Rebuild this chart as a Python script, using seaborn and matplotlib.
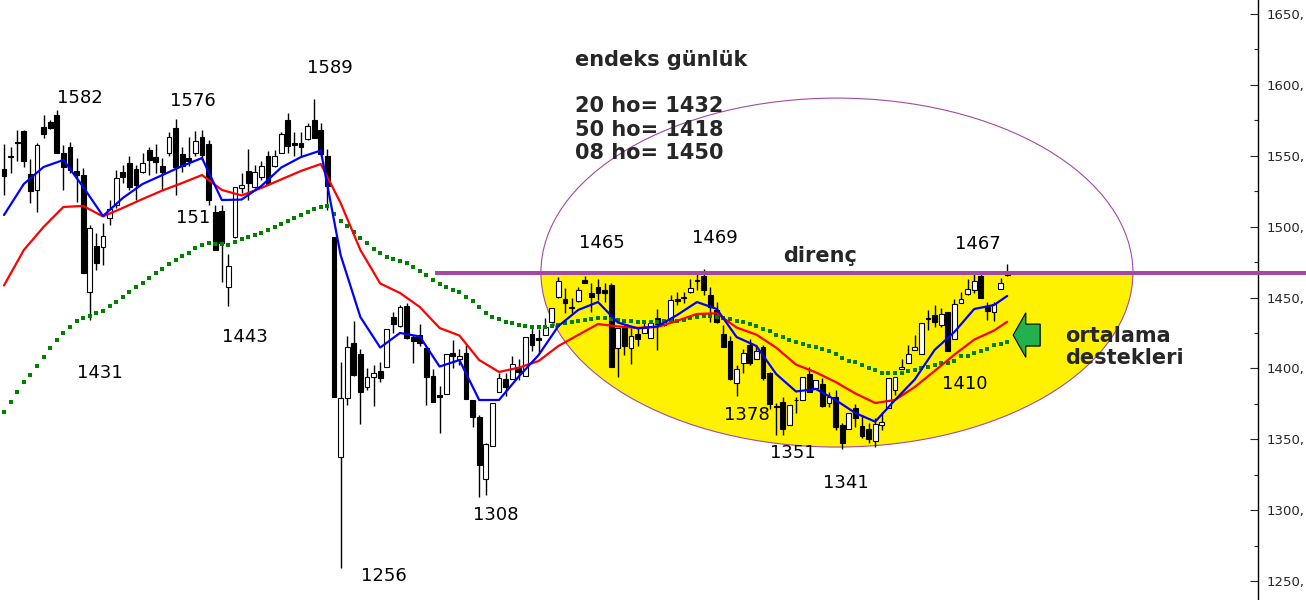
import numpy as np
import matplotlib
matplotlib.use("Agg")
import matplotlib.pyplot as plt
import seaborn as sns
from matplotlib.patches import Ellipse, Rectangle, FancyArrow

# daily candles (oldest first)
opens = [1541, 1549.5, 1560, 1567.5, 1537, 1526, 1570, 1574, 1579, 1552,
         1556.5, 1539, 1536.5, 1454, 1486, 1485.5, 1506, 1515.5, 1538.5, 1545,
         1540.5, 1538.5, 1554, 1549, 1543, 1552, 1569.5, 1551.5, 1548.5, 1552,
         1563, 1558.5, 1510.5, 1511, 1457.5, 1492.5, 1527.5, 1539.5, 1528, 1535,
         1550, 1542.5, 1552, 1575, 1559, 1559, 1562, 1575, 1568, 1549.5,
         1493, 1337.5, 1379, 1418, 1410, 1387, 1394, 1398.5, 1401, 1436,
         1430, 1444, 1422, 1423.5, 1414.5, 1394.5, 1381, 1382, 1411, 1406.5,
         1411, 1377.5, 1365.5, 1322, 1345, 1383.5, 1392.5, 1392.5, 1400.5, 1394.5,
         1424.5, 1421.5, 1423.5, 1433, 1450.5, 1449, 1443, 1447.5, 1462.5, 1453.5,
         1457.5, 1455, 1459, 1414.5, 1428.5, 1414.5, 1424.5, 1425, 1421.5, 1435.5,
         1430.5, 1434, 1449, 1450.5, 1454, 1462.5, 1465, 1452, 1441, 1424.5,
         1419.5, 1389.5, 1404, 1416.5, 1406.5, 1415, 1397, 1373.5, 1376, 1360,
         1378, 1377.5, 1396, 1386, 1389, 1375.5, 1380, 1360, 1357, 1372,
         1359.5, 1357, 1349, 1360, 1372, 1385, 1399.5, 1404, 1413, 1410,
         1435.5, 1437.5, 1430.5, 1440, 1420.5, 1446, 1452.5, 1455, 1465, 1443.5,
         1440, 1456, 1466]
highs = [1558, 1556, 1568, 1568, 1548, 1559, 1579, 1575, 1582, 1557.5,
         1560, 1548.5, 1541.5, 1501, 1495.5, 1502.5, 1519, 1540, 1543.5, 1549.5,
         1543.5, 1552, 1556.5, 1558.5, 1548.5, 1566.5, 1576, 1556, 1563, 1567.5,
         1568, 1561, 1515.5, 1515.5, 1480.5, 1528, 1538, 1555, 1543.5, 1546.5,
         1553.5, 1554, 1566.5, 1580, 1566.5, 1567, 1573, 1590, 1573, 1555,
         1493, 1404.5, 1423, 1433.5, 1413.5, 1400.5, 1402.5, 1404.5, 1428, 1440,
         1444.5, 1446, 1423.5, 1431.5, 1415.5, 1399.5, 1387.5, 1410, 1420, 1413.5,
         1416.5, 1377.5, 1367, 1347.5, 1375.5, 1397, 1397, 1408.5, 1406.5, 1422,
         1429, 1428, 1435.5, 1442.5, 1464.5, 1456.5, 1449.5, 1457.5, 1465, 1460,
         1463, 1460, 1460.5, 1428.5, 1430.5, 1428.5, 1428.5, 1432, 1432, 1442,
         1434, 1452, 1454, 1454, 1463, 1467, 1470, 1457.5, 1447, 1430.5,
         1423, 1402.5, 1413.5, 1420.5, 1416.5, 1416.5, 1397.5, 1375.5, 1380, 1374,
         1380, 1394, 1401, 1392, 1393, 1383.5, 1385, 1361.5, 1368.5, 1375,
         1367, 1361.5, 1365, 1369, 1393, 1394, 1406.5, 1416.5, 1423.5, 1432,
         1441, 1444.5, 1442.5, 1440, 1449, 1454, 1463, 1467.5, 1468, 1447,
         1446.5, 1464, 1473.5]
lows = [1522, 1538, 1546, 1542, 1517, 1510, 1562.5, 1569, 1552, 1526,
        1538, 1517.5, 1467, 1434, 1469.5, 1473, 1501, 1513, 1531, 1526,
        1519, 1538, 1536.5, 1538, 1526, 1549.5, 1522.5, 1538.5, 1542.5, 1549.5,
        1547, 1515.5, 1483.5, 1461, 1444, 1492, 1524, 1519, 1527.5, 1533,
        1529.5, 1542, 1552, 1552, 1549.5, 1549.5, 1561, 1562.5, 1549.5, 1511.5,
        1380, 1259, 1374, 1394.5, 1361, 1385, 1373.5, 1390.5, 1401, 1425,
        1429.5, 1420.5, 1404, 1415.5, 1374, 1376, 1354.5, 1382, 1400.5, 1402.5,
        1378.5, 1359, 1309.5, 1310.5, 1345, 1383, 1380.5, 1392.5, 1392, 1394.5,
        1412, 1411, 1423.5, 1432, 1449.5, 1439, 1439, 1447, 1460, 1439.5,
        1448, 1447, 1401, 1394, 1409.5, 1403, 1415.5, 1425, 1421.5, 1413,
        1430, 1434, 1444.5, 1446, 1453, 1455.5, 1452, 1433, 1432, 1415,
        1392, 1380.5, 1397, 1402.5, 1406.5, 1392, 1371.5, 1353, 1353, 1360,
        1368.5, 1377.5, 1383, 1386, 1373, 1373, 1356.5, 1343, 1357, 1359,
        1351, 1347.5, 1344.5, 1356.5, 1372, 1381, 1399.5, 1404, 1413, 1410,
        1427, 1429.5, 1429.5, 1412, 1420.5, 1446, 1452, 1453.5, 1449.5, 1434,
        1433.5, 1456, 1465]
closes = [1536, 1549, 1559, 1546.5, 1525.5, 1557.5, 1565.5, 1569.5, 1552, 1542,
          1540, 1536.5, 1467.5, 1499, 1474.5, 1493.5, 1512.5, 1534.5, 1535, 1528,
          1529.5, 1545, 1547, 1545.5, 1538.5, 1563, 1542, 1543, 1546.5, 1560.5,
          1550.5, 1518.5, 1483.5, 1488.5, 1472, 1528, 1529.5, 1531, 1538.5, 1542.5,
          1530, 1550, 1565.5, 1557, 1557.5, 1556, 1571, 1562.5, 1551.5, 1529,
          1380, 1379, 1415, 1395.5, 1383, 1394, 1397, 1393, 1428, 1431.5,
          1443.5, 1421.5, 1419, 1418, 1394, 1376.5, 1379.5, 1410, 1408.5, 1409,
          1378.5, 1366, 1331.5, 1346.5, 1375.5, 1393, 1387, 1403, 1397.5, 1422,
          1416.5, 1420, 1429, 1442.5, 1462, 1446, 1442.5, 1455.5, 1460, 1450.5,
          1453, 1453, 1401, 1428.5, 1416, 1423, 1420.5, 1428.5, 1432, 1431.5,
          1434, 1448, 1447.5, 1450, 1457, 1461.5, 1455, 1443.5, 1433, 1415,
          1392.5, 1399.5, 1411, 1404, 1412, 1393, 1375, 1373, 1357, 1374,
          1377.5, 1394, 1383.5, 1392, 1373.5, 1380, 1358.5, 1347.5, 1368.5, 1365,
          1352.5, 1350.5, 1361, 1362.5, 1393, 1394, 1401, 1410, 1415, 1432,
          1435, 1433, 1438.5, 1412, 1445.5, 1449, 1456, 1462, 1450, 1440.5,
          1445.5, 1460, 1467.5]

# 50-day average, one dot per day
ma50 = [1369.5, 1376.5, 1383.5, 1390.6, 1395.3, 1401.9, 1408.3, 1414.6, 1420.0, 1424.8,
        1429.4, 1433.6, 1435.8, 1437.2, 1438.9, 1440.7, 1443.8, 1447.1, 1450.6, 1454.1,
        1457.2, 1460.5, 1464.0, 1467.1, 1469.9, 1473.4, 1476.5, 1479.3, 1481.6, 1484.7,
        1487.0, 1488.2, 1487.8, 1487.8, 1487.0, 1489.4, 1491.1, 1492.9, 1494.1, 1495.7,
        1497.6, 1499.5, 1501.9, 1504.2, 1506.3, 1508.2, 1510.6, 1512.4, 1513.7, 1514.6,
        1508.9, 1504.2, 1500.5, 1496.4, 1492.2, 1488.2, 1484.2, 1481.2, 1478.8, 1477.0,
        1476.0, 1474.1, 1471.3, 1468.9, 1465.9, 1462.4, 1459.5, 1457.6, 1455.3, 1454.1,
        1450.6, 1447.8, 1443.1, 1439.3, 1436.5, 1434.8, 1432.9, 1431.8, 1430.6, 1429.9,
        1429.4, 1429.0, 1429.0, 1430.1, 1430.6, 1431.8, 1432.5, 1433.4, 1434.1, 1434.8,
        1435.3, 1435.8, 1434.6, 1434.1, 1433.6, 1433.4, 1432.9, 1432.9, 1432.9, 1432.9,
        1433.4, 1433.4, 1433.4, 1434.1, 1435.3, 1436.5, 1437.0, 1437.2, 1436.5, 1435.8,
        1434.8, 1433.4, 1432.5, 1431.3, 1429.9, 1427.8, 1426.4, 1423.6, 1421.9, 1420.0,
        1418.8, 1417.2, 1415.8, 1414.9, 1413.7, 1412.5, 1410.2, 1407.5, 1405.4, 1404.7,
        1402.4, 1400.1, 1398.9, 1397.0, 1396.5, 1397.0, 1397.0, 1398.4, 1398.9, 1400.1,
        1401.2, 1402.4, 1404.0, 1404.0, 1405.4, 1408.8, 1408.8, 1411.1, 1412.5, 1413.7,
        1416.5, 1417.0, 1418.8]

# 8- and 20-day averages, read every 3rd day plus the last one
ma_days = list(range(0, 151, 3)) + [152]
ma08 = [1508.2, 1530.1, 1542.1, 1547.0, 1528.0, 1507.5, 1520.2, 1530.1, 1536.4, 1542.8,
        1548.4, 1518.8, 1519.1, 1528.7, 1541.7, 1549.1, 1553.7, 1480.0, 1436.2, 1414.7,
        1425.0, 1422.5, 1401.3, 1405.9, 1377.7, 1377.7, 1394.3, 1409.4, 1429.9, 1441.2,
        1446.8, 1432.4, 1428.2, 1429.6, 1437.7, 1446.8, 1441.9, 1422.1, 1415.8, 1396.0,
        1383.7, 1385.5, 1377.7, 1368.5, 1362.4, 1377.7, 1392.2, 1413.0, 1425.7, 1441.9,
        1444.7, 1451.1]
ma20 = [1458.5, 1483.5, 1499.8, 1513.9, 1514.6, 1507.2, 1513.2, 1519.5, 1525.5, 1530.8,
        1536.4, 1525.9, 1522.0, 1527.3, 1533.3, 1539.3, 1544.2, 1516.7, 1483.5, 1459.9,
        1453.2, 1443.3, 1428.5, 1423.2, 1405.9, 1397.5, 1400.5, 1405.2, 1415.8, 1423.6,
        1431.3, 1429.6, 1428.6, 1429.2, 1433.6, 1438.4, 1438.9, 1428.8, 1423.8, 1414.6,
        1402.7, 1397.2, 1390.4, 1382.3, 1375.6, 1377.7, 1386.9, 1398.2, 1409.7, 1420.3,
        1426.7, 1432.9]

resist_level = 1467
ytick_vals = list(range(1250, 1651, 50))

# swing labels: text, day, price position
swing_text = ["1582", "1576", "1589", "151", "1443", "1431", "1256", "1308",
              "1465", "1469", "1467", "1378", "1351", "1341", "1410"]
swing_x = [11.5, 28.6, 49.4, 28.6, 36.5, 14.5, 57.6, 74.5,
           90.6, 107.7, 147.6, 112.6, 119.5, 127.6, 145.6]
swing_y = [1590.8, 1588.6, 1611.9, 1506.1, 1422.1, 1396.7, 1253.5, 1296.6,
           1488.5, 1492.0, 1487.8, 1367.1, 1340.3, 1319.1, 1389.0]

info_lines = ["endeks günlük", "", "20 ho= 1432", "50 ho= 1418", "08 ho= 1450"]

YELLOW = "#FFF200"
PURPLE = "#A349A4"
GREEN = "#22B14C"

sns.set_style("white")
plt.rcParams["font.family"] = ["DejaVu Sans"]

fig = plt.figure(figsize=(13.06, 6), dpi=100)
ax = fig.add_axes([0, 0, 1258 / 1306, 1])
ax.set_xlim(-0.606, 190.0)
ax.set_ylim(1236.6, 1659.9)

# yellow bowl under the resistance + the ellipse outline
bowl = Ellipse((126.2, 1467.6), 89.7, 246.2, facecolor=YELLOW, edgecolor="none", zorder=1)
ax.add_patch(bowl)
clip = Rectangle((-10, 1000), 300, resist_level - 1000, transform=ax.transData)
bowl.set_clip_path(clip)
ax.add_patch(Ellipse((126.2, 1467.6), 89.7, 246.2, fill=False, edgecolor=PURPLE,
                     linewidth=0.8, zorder=2))

# candles
days = np.arange(len(opens))
o = np.array(opens)
c = np.array(closes)
up = c >= o
ax.vlines(days, lows, highs, color="black", linewidth=1, zorder=3)
ax.bar(days, np.abs(c - o), bottom=np.minimum(o, c), width=0.7,
       color=np.where(up, "white", "black"), edgecolor="black", linewidth=0.8, zorder=4)

# moving averages
sns.scatterplot(x=days, y=ma50, ax=ax, color="#008000", marker="s", s=11,
                linewidth=0, zorder=5)
sns.lineplot(x=ma_days, y=ma20, ax=ax, color="#FF0000", linewidth=1.6, zorder=5)
sns.lineplot(x=ma_days, y=ma08, ax=ax, color="#0000FF", linewidth=1.6, zorder=5)

# resistance line
ax.plot([65.3, 197.3], [resist_level, resist_level], color=PURPLE, linewidth=2.9,
        solid_capstyle="butt", clip_on=False, zorder=7)

# arrow for the averages support
ax.add_patch(FancyArrow(157.0, 1423.5, -4.1, 0, width=15.5, head_width=31.5,
                        head_length=1.92, length_includes_head=True,
                        facecolor=GREEN, edgecolor="black", linewidth=0.8, zorder=6))

for t, x, y in zip(swing_text, swing_x, swing_y):
    ax.text(x, y, t, fontsize=13, ha="center", va="center", color="black", zorder=2.5)

ax.text(86.5, 1624.6, "\n".join(info_lines), fontsize=15, fontweight="bold",
        ha="left", va="top", linespacing=1.2)
ax.text(123.6, 1479.3, "direnç", fontsize=15, fontweight="bold", ha="center", va="center")
ax.text(160.8, 1429.9, "ortalama\ndestekleri", fontsize=15, fontweight="bold",
        ha="left", va="top", linespacing=1.15)

# right price axis
for side in ["top", "left", "bottom"]:
    ax.spines[side].set_visible(False)
ax.spines["right"].set_color("black")
ax.spines["right"].set_linewidth(1)
ax.set_xticks([])
ax.yaxis.tick_right()
ax.set_yticks(ytick_vals)
ax.set_yticklabels([f"{v}," for v in ytick_vals])
ax.set_yticks([v + 25 for v in ytick_vals[:-1]], minor=True)
ax.tick_params(axis="y", which="major", direction="in", length=6, width=0.8,
               pad=6.5, labelsize=9.5, right=True, left=False)
ax.tick_params(axis="y", which="minor", direction="in", length=3, width=0.8,
               right=True, left=False)

fig.savefig("out.png", dpi=100)
